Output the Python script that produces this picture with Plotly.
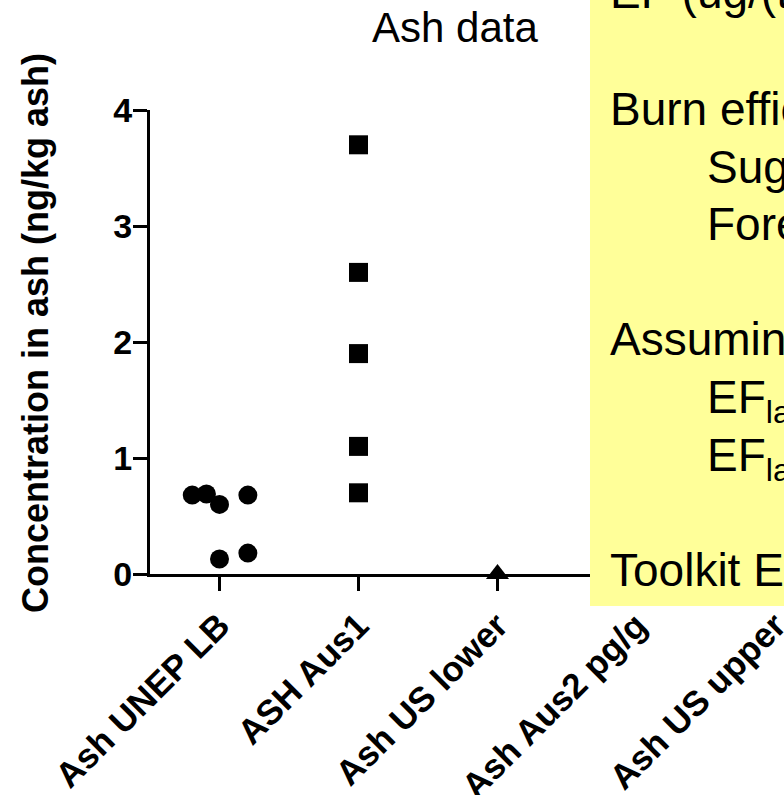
import plotly.graph_objects as go

# ---- data -------------------------------------------------------------
categories = ["Ash UNEP LB", "ASH Aus1", "Ash US lower", "Ash Aus2 pg/g", "Ash US upper"]

unep_values = [0.68, 0.69, 0.60, 0.68, 0.13, 0.18]
unep_spread = [-0.196, -0.094, 0.0, 0.204, 0.0, 0.204]   # column-scatter spread of close points
aus1_values = [3.70, 2.60, 1.90, 1.10, 0.70]
us_lower_values = [0.0]

y_ticks = [0, 1, 2, 3, 4]

note_lines = [
    ("EF (ug/(t fuel))", 0),
    ("Burn efficiency", 0),
    ("Sugarcane", 1),
    ("Forest", 1),
    ("Assuming", 0),
    ("EF<sub>land</sub>", 1),
    ("EF<sub>land</sub>", 1),
    ("Toolkit EF", 0),
]
note_baselines = [8, 125, 183, 240, 355, 413, 471, 586]

# ---- layout geometry (pixels) ----------------------------------------
W, H = 784, 795
ML, MR, MT, MB = 150, 0, 110, 221
PW, PH = W - ML - MR, H - MT - MB
CAT_PX = 139.0                       # pixel spacing between categories
x_range = [-0.5, -0.5 + PW / CAT_PX]


def px_x(x):
    return (x - ML) / PW


def px_y(y):
    return (H - MB - y) / PH


FONT = "Liberation Sans, Arial, Helvetica, sans-serif"

fig = go.Figure()

fig.add_trace(go.Scatter(
    x=[0 + d for d in unep_spread], y=unep_values, mode="markers",
    marker=dict(symbol="circle", size=19, color="black", line=dict(width=0)),
    cliponaxis=False, showlegend=False))

fig.add_trace(go.Scatter(
    x=[1] * len(aus1_values), y=aus1_values, mode="markers",
    marker=dict(symbol="square", size=19, color="black", line=dict(width=0)),
    cliponaxis=False, showlegend=False))

fig.add_trace(go.Scatter(
    x=[2] * len(us_lower_values), y=us_lower_values, mode="markers",
    marker=dict(symbol="triangle-up", size=20, color="black", line=dict(width=0)),
    cliponaxis=False, showlegend=False))

fig.update_layout(
    width=W, height=H, autosize=False,
    margin=dict(l=ML, r=MR, t=MT, b=MB, pad=0, autoexpand=False),
    paper_bgcolor="white", plot_bgcolor="white",
    font=dict(family=FONT, color="black"),
    xaxis=dict(
        range=x_range, tickmode="array", automargin=False,
        tickvals=list(range(len(categories))), ticktext=categories,
        tickangle=-45, tickfont=dict(size=35, weight="bold", family=FONT),
        ticklabeloverflow="allow",
        showline=True, linewidth=3, linecolor="black",
        ticks="outside", ticklen=14, tickwidth=3, tickcolor="black",
        showgrid=False, zeroline=False, fixedrange=True),
    yaxis=dict(
        range=[0, 4], tickmode="array", tickvals=y_ticks, automargin=False,
        ticktext=[str(v) for v in y_ticks],
        tickfont=dict(size=34, weight="bold", family=FONT),
        ticklabelstandoff=-6,
        showline=True, linewidth=3, linecolor="black",
        ticks="outside", ticklen=14, tickwidth=3, tickcolor="black",
        showgrid=False, zeroline=False, fixedrange=True),
)

# chart title
fig.add_annotation(
    text="Ash data", xref="paper", yref="paper",
    x=px_x(455), y=px_y(41.7 - 0.3465 * 42), xanchor="center", yanchor="middle",
    showarrow=False, font=dict(size=42, family=FONT, color="black"))

# y-axis title
fig.add_annotation(
    text="Concentration in ash (ng/kg ash)", xref="paper", yref="paper",
    x=px_x(35), y=px_y(333), xanchor="center", yanchor="middle",
    textangle=-90, showarrow=False,
    font=dict(size=36, family=FONT, color="black", weight="bold"))

# yellow note panel
fig.add_shape(
    type="rect", xref="paper", yref="paper",
    x0=px_x(590), x1=px_x(820), y0=px_y(606), y1=px_y(-20),
    fillcolor="#FFFF99", line=dict(width=0), layer="above")

NOTE_SIZE = 46
for (txt, indent), base in zip(note_lines, note_baselines):
    fig.add_annotation(
        text=txt, xref="paper", yref="paper",
        x=px_x(608 if indent == 0 else 705), y=px_y(base - 0.905 * NOTE_SIZE - 2),
        xanchor="left", yanchor="top", showarrow=False, align="left",
        font=dict(size=NOTE_SIZE, family=FONT, color="black"))

fig.write_html("out.html", config={"displayModeBar": False})
